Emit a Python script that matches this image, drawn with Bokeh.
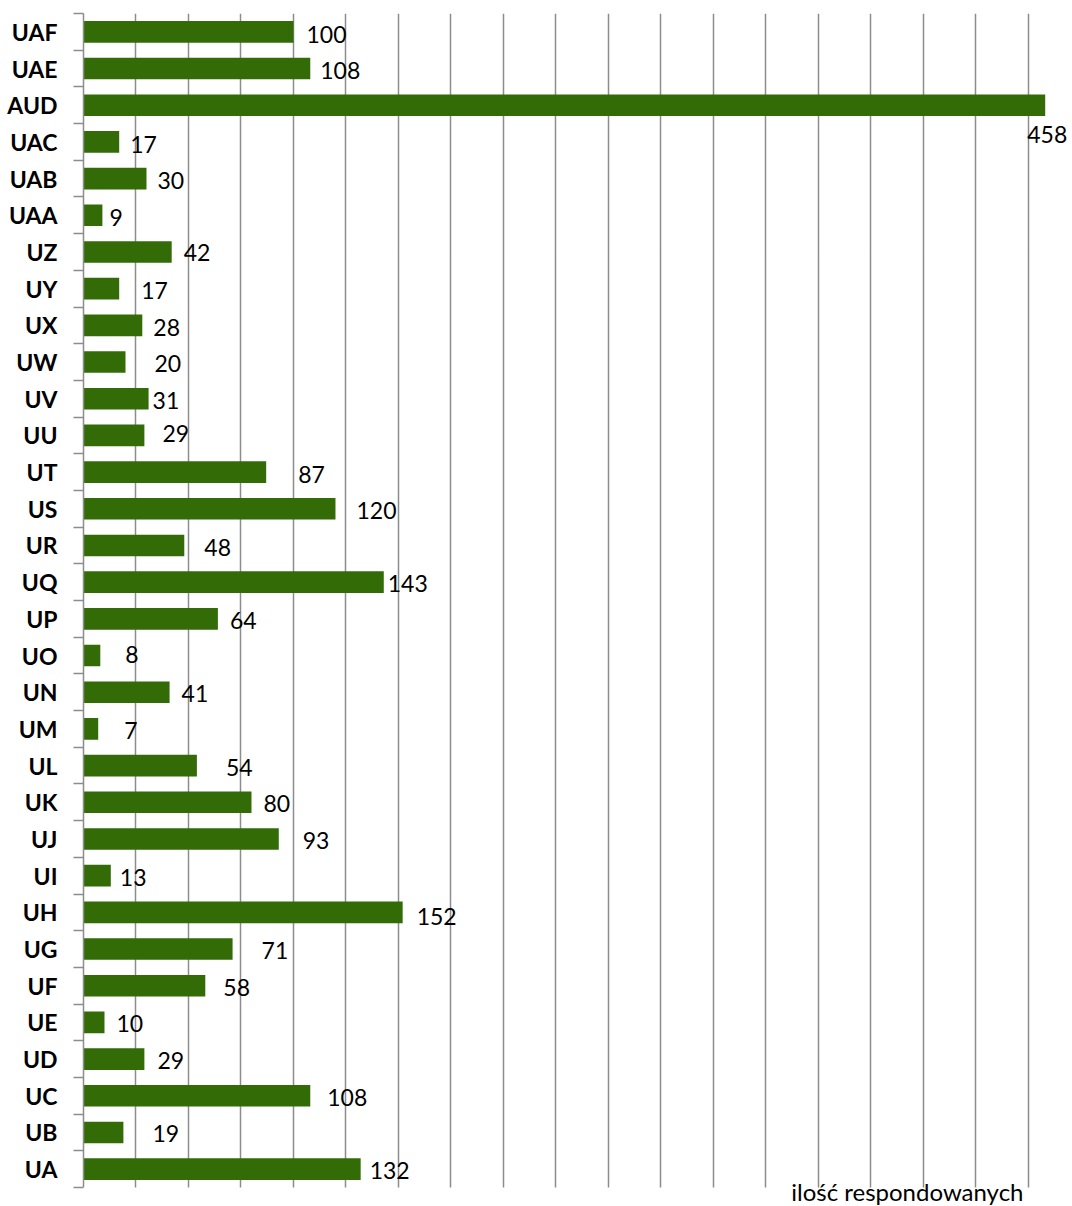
from bokeh.plotting import figure
from bokeh.models import (ColumnDataSource, Range1d, FixedTicker, SingleIntervalTicker,
                          Label, LinearAxis, BoxAnnotation)
from bokeh.core.properties import value
from bokeh.embed import file_html
from bokeh.resources import INLINE

# Respondent counts per unit, listed bottom to top
categories = ["UA", "UB", "UC", "UD", "UE", "UF", "UG", "UH", "UI", "UJ", "UK",
              "UL", "UM", "UN", "UO", "UP", "UQ", "UR", "US", "UT", "UU", "UV",
              "UW", "UX", "UY", "UZ", "UAA", "UAB", "UAC", "AUD", "UAE", "UAF"]
counts = [132, 19, 108, 29, 10, 58, 71, 152, 13, 93, 80,
          54, 7, 41, 8, 64, 143, 48, 120, 87, 29, 31,
          20, 28, 17, 42, 9, 30, 17, 458, 108, 100]
axis_title = "ilość respondowanych"

# Placement of each value label relative to the end of its bar (pixels)
label_dx = [9, 29, 17, 13, 12, 18, 29, 14, 9, 24, 12,
            29, 26, 12, 25, 12, 4, 20, 21, 32, 18, 4,
            29, 11, 22, 12, 7, 11, 11, -18, 10, 13]
label_dy = [2.2, 2.1, 2.1, 2.6, 1.7, 2.2, 2.2, 4.8, 3, 2.5, 2.4,
            2.5, 2.8, 2.2, -0.4, 2.3, 2.5, 3, 3, 3, -0.8, 2.2,
            2.7, 3, 2.6, 1, 3, 3, 3, 30, 3, 3]

GREEN = "#336B07"
GRID = "#8C8C8C"
FONT = "Lato"
BASELINE_SHIFT = -0.8

TOP_PX, FRAME_PX, BOTTOM_PX = 13, 1174, 19   # plot area and strip beneath it

n = len(categories)
centers = [i + 0.5 for i in range(n)]
boundaries = list(range(n + 1))
row_px = FRAME_PX / n

src = ColumnDataSource(dict(
    y=centers,
    v=counts,
    txt=[str(c) for c in counts],
    dx=label_dx,
    dy=[d + BASELINE_SHIFT for d in label_dy],
))

p = figure(width=1072, height=TOP_PX + FRAME_PX + BOTTOM_PX,
           output_backend="svg", toolbar_location=None,
           x_range=Range1d(0, 471), y_range=Range1d(-BOTTOM_PX / row_px, n),
           x_axis_location=None, y_axis_location=None,
           min_border_left=83, min_border_right=0, min_border_top=TOP_PX,
           min_border_bottom=0)
p.outline_line_color = None
p.background_fill_color = "white"
p.border_fill_color = "white"

# vertical gridlines every 25 respondents, no horizontal ones
p.xgrid.ticker = SingleIntervalTicker(interval=25)
p.xgrid.grid_line_color = GRID
p.xgrid.grid_line_width = 1.5
p.ygrid.visible = False

# category axis: names centred on bars, tick marks between categories
yaxis = LinearAxis(
    bounds=(0, n),
    ticker=FixedTicker(ticks=centers, minor_ticks=boundaries),
    major_label_overrides={c: name for c, name in zip(centers, categories)},
    major_tick_out=0, major_tick_in=0,
    minor_tick_out=10, minor_tick_in=0,
    minor_tick_line_color=GRID, minor_tick_line_width=1.5,
    axis_line_color=GRID, axis_line_width=1.5,
    major_label_standoff=16,
    major_label_text_font=FONT, major_label_text_font_style="bold",
    major_label_text_font_size="23px", major_label_text_color="#000000",
)
p.add_layout(yaxis, "left")

p.hbar(y="y", left=0, right="v", height=0.59, source=src,
       fill_color=GREEN, line_color=None)

p.text(x="v", y="y", text="txt", source=src, x_offset="dx", y_offset="dy",
       text_font=value(FONT), text_font_size="23px", text_color="#000000",
       text_align="left", text_baseline="alphabetic")

# strip under the plot area holds the axis title
p.add_layout(BoxAnnotation(top=0, fill_color="white", fill_alpha=1.0,
                           line_color=None))
p.add_layout(Label(x=1023, y=1191, x_units="canvas", y_units="canvas",
                   text=axis_title, text_font=FONT, text_font_size="24px",
                   text_color="#000000", text_align="right",
                   text_baseline="alphabetic"))

open("out.html", "w").write(file_html(p, INLINE))
